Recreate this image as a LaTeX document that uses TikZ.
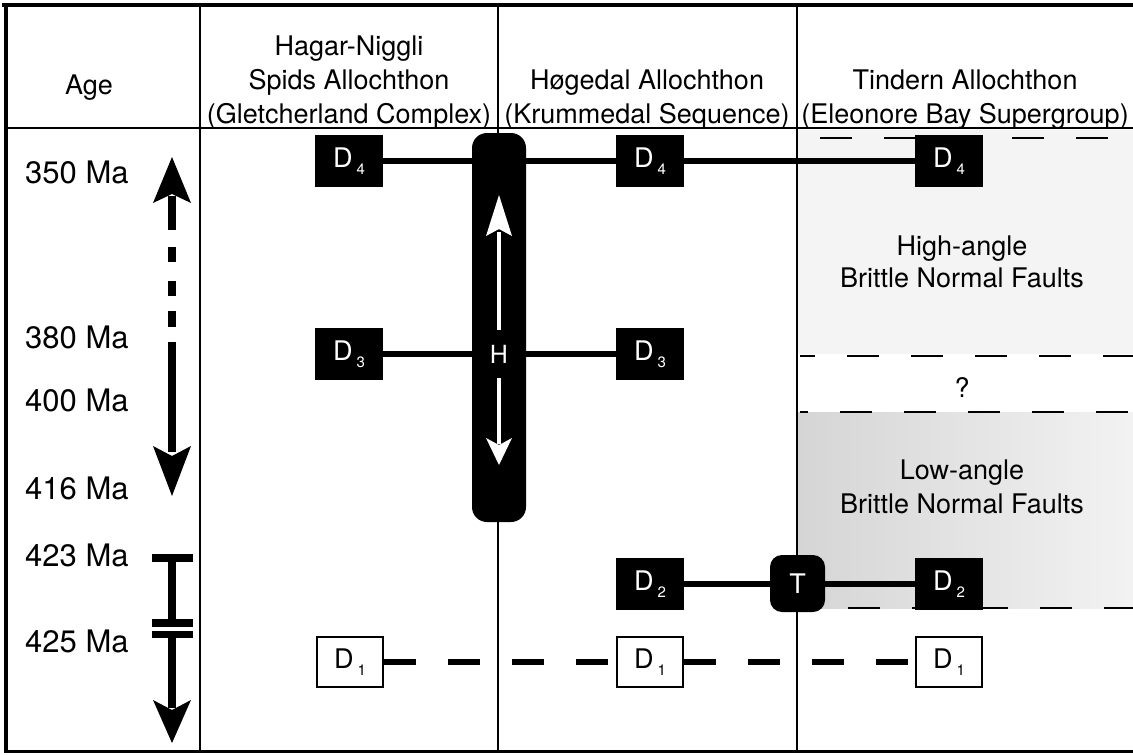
\documentclass[tikz,border=0pt]{standalone}
\usepackage{fontspec}
\setmainfont{TeX Gyre Heros}
\usetikzlibrary{backgrounds}
% deformation label: D with a small lowered index
\newcommand\dlab[1]{D\kern4pt\raisebox{-7pt}{\fontsize{15}{15}\selectfont #1}}
\begin{document}
\begin{tikzpicture}[x=1pt,y=-1pt,
  lab/.style={font=\fontsize{27}{34}\selectfont, align=center, inner sep=0pt},
  agelab/.style={font=\fontsize{31}{31}\selectfont, anchor=base west, inner sep=0pt},
  dbox/.style={fill=black, text=white, minimum width=68pt, minimum height=52pt, inner sep=0pt, font=\fontsize{27}{27}\selectfont},
  dopen/.style={draw=black, line width=2pt, fill=white, minimum width=66pt, minimum height=50pt, inner sep=0pt, font=\fontsize{27}{27}\selectfont},
  link/.style={line width=6pt},
  dlink/.style={line width=6pt, dash pattern=on 32pt off 32pt},
  fault/.style={line width=2.6pt, dash pattern=on 32pt off 32pt},
  rulex/.style={line width=2.5pt},
  frame/.style={line width=4pt},
]
\useasboundingbox (0,0) rectangle (1133,755);

% ---- header ----
\node[lab] (hage) at (89,88) {Age};
\node[lab] (hhag) at (349,83) {Hagar-Niggli\\Spids Allochthon\\(Gletcherland Complex)};
\node[lab] (hhoe) at (647,100) {Høgedal Allochthon\\(Krummedal Sequence)};
\node[lab] (htin) at (965,100) {Tindern Allochthon\\(Eleonore Bay Supergroup)};

% ---- age column ----
\node[agelab] (a350) at (25,183) {350 Ma};
\node[agelab] (a380) at (25,348) {380 Ma};
\node[agelab] (a400) at (25,411) {400 Ma};
\node[agelab] (a416) at (25,499) {416 Ma};
\node[agelab] (a423) at (25,566) {423 Ma};
\node[agelab] (a425) at (25,652) {425 Ma};

% upper age arrow: solid, broken middle, solid
\fill (172,157) -- (191,203) -- (172,194) -- (153,203) -- cycle;
\fill (168,196) rectangle (176,230);
\fill (168,247) rectangle (176,262);
\fill (168,281) rectangle (176,296);
\fill (168,311) rectangle (176,327);
\fill (168,342) rectangle (176,452);
\fill (172,496) -- (191,446) -- (172,456) -- (153,446) -- cycle;

% lower age arrow with broken bar
\fill (152,554) rectangle (193,562);
\fill (168,562) rectangle (176,620);
\fill (152,619) rectangle (193,627);
\fill (152,631) rectangle (193,638);
\fill (168,638) rectangle (176,708);
\fill (172,743) -- (191,700) -- (172,710) -- (153,700) -- cycle;

% ---- deformation events ----
\node[dbox] (d4h) at (349,161) {\dlab{4}};
\node[dbox] (d4k) at (650,161) {\dlab{4}};
\node[dbox] (d4t) at (949,161) {\dlab{4}};
\node[dbox] (d3h) at (349,354) {\dlab{3}};
\node[dbox] (d3k) at (650,354) {\dlab{3}};
\node[dbox] (d2k) at (650,584) {\dlab{2}};
\node[dbox] (d2t) at (949,584) {\dlab{2}};
\node[dopen] (d1h) at (350,662) {\dlab{1}};
\node[dopen] (d1k) at (650,662) {\dlab{1}};
\node[dopen] (d1t) at (949,662) {\dlab{1}};

% H bar and T block
\node[fill=black, rounded corners=15pt, minimum width=54pt, minimum height=389pt, inner sep=0pt] (hbar) at (499,327.5) {};
\node[text=white, font=\fontsize{25}{25}\selectfont, inner sep=0pt] (hlab) at (499,354) {H};
\node[fill=black, text=white, rounded corners=12pt, minimum width=55pt, minimum height=57pt, inner sep=0pt, font=\fontsize{27}{27}\selectfont] (tbox) at (797.5,583.5) {T};

% white double arrow inside the H bar
\fill[white] (499,195) -- (512,236) -- (499,229) -- (486,236) -- cycle;
\fill[white] (497,232) rectangle (501,330);
\fill[white] (497,378) rectangle (501,444);
\fill[white] (499,465) -- (512,438) -- (499,445) -- (486,438) -- cycle;

% ---- Tindern column ----
\node[lab, font=\fontsize{27}{32}\selectfont] (hiang) at (962,262) {High-angle\\Brittle Normal Faults};
\node[lab] (qmark) at (962,387) {?};
\node[lab, font=\fontsize{27}{34}\selectfont] (loang) at (962,487) {Low-angle\\Brittle Normal Faults};

\begin{scope}[on background layer]
  % shaded fault domains
  \fill[gray!9] (798,130) rectangle (1133,354);
  \shade[left color=gray!33, right color=gray!10] (798,412) rectangle (1133,608);
  % frame and column rules
  \draw[frame] (2,5) -- (1133,5);
  \draw[frame] (6,3) -- (6,753);
  \draw[line width=3pt] (4,751) -- (1133,751);
  \draw[rulex] (6,128) -- (1133,128);
  \draw[rulex] (200,5) -- (200,751);
  \draw[rulex] (498,5) -- (498,751);
  \draw[rulex] (797,5) -- (797,751);
  % fault boundaries
  \draw[fault] (820,138) -- (1133,138);
  \draw[fault, dash phase=17pt] (800,356) -- (1133,356);
  \draw[fault, dash phase=24pt] (800,412) -- (1133,412);
  \draw[fault] (848,608) -- (1133,608);
  % correlation links
  \draw[link] (d4h.east) -- (d4k.west);
  \draw[link] (d4k.east) -- (d4t.west);
  \draw[link] (d3h.east) -- (d3k.west);
  \draw[link] (d2k.east) -- (d2t.west);
  \draw[dlink] (d1h.east) -- (d1k.west);
  \draw[dlink] (d1k.east) -- (d1t.west);
\end{scope}
\end{tikzpicture}
\end{document}
